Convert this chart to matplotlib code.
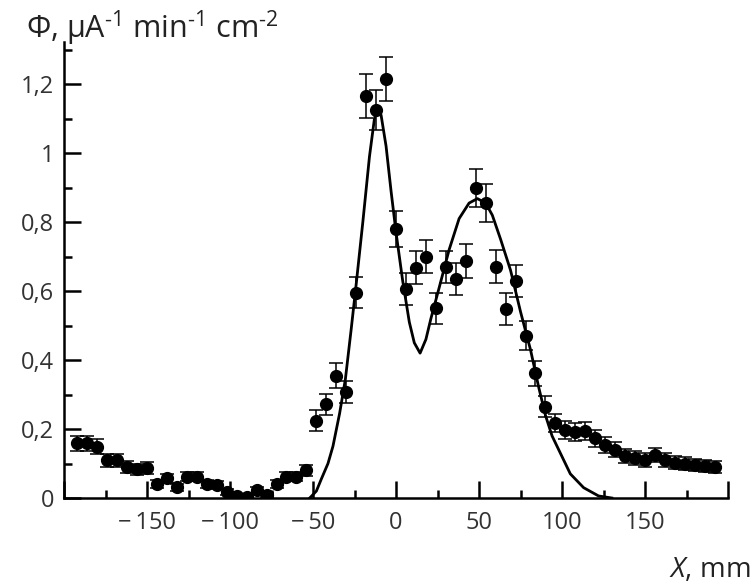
import matplotlib.pyplot as plt
from matplotlib.ticker import MultipleLocator, FixedLocator, FuncFormatter

# measured points: position (mm), flux, error
x_pts = [-192, -186, -180, -174, -168, -162, -156, -150, -144, -138, -132, -126,
         -120, -114, -108, -102, -96, -90, -84, -78, -72, -66, -60, -54,
         -48, -42, -36, -30, -24, -18, -12, -6, 0, 6, 12, 18, 24, 30, 36, 42,
         48, 54, 60, 66, 72, 78, 84, 90, 96, 102, 108, 114, 120, 126, 132, 138,
         144, 150, 156, 162, 168, 174, 180, 186, 192]
y_pts = [0.159, 0.159, 0.149, 0.110, 0.110, 0.089, 0.083, 0.088, 0.041, 0.057, 0.031, 0.062,
         0.062, 0.041, 0.038, 0.018, 0.006, 0.004, 0.023, 0.009, 0.041, 0.062, 0.062, 0.081,
         0.224, 0.272, 0.355, 0.308, 0.595, 1.166, 1.125, 1.214, 0.779, 0.606, 0.668, 0.700,
         0.550, 0.670, 0.634, 0.687, 0.898, 0.855, 0.670, 0.548, 0.629, 0.470, 0.361, 0.265,
         0.218, 0.197, 0.192, 0.195, 0.173, 0.154, 0.140, 0.122, 0.116, 0.110, 0.125, 0.110,
         0.102, 0.100, 0.095, 0.093, 0.090]
y_err = [0.022, 0.022, 0.021, 0.019, 0.019, 0.017, 0.016, 0.017, 0.012, 0.014, 0.011, 0.014,
         0.014, 0.012, 0.012, 0.008, 0.005, 0.004, 0.009, 0.006, 0.012, 0.014, 0.014, 0.016,
         0.030, 0.030, 0.036, 0.032, 0.045, 0.064, 0.058, 0.064, 0.052, 0.045, 0.047, 0.048,
         0.045, 0.047, 0.046, 0.048, 0.055, 0.055, 0.048, 0.045, 0.046, 0.042, 0.037, 0.030,
         0.027, 0.026, 0.026, 0.026, 0.024, 0.023, 0.022, 0.021, 0.020, 0.020, 0.021, 0.020,
         0.019, 0.019, 0.018, 0.018, 0.018]

# fitted curve
x_fit = [-52, -48, -45, -41, -38, -34, -30.5, -27, -24, -20, -16, -13, -11.5, -9, -6, -3,
         0, 4, 8, 11, 14.5, 18, 21, 26, 32, 38, 44, 49, 54, 58, 63, 69, 75, 81, 86,
         90, 94, 99, 105, 113, 122, 130]
y_fit = [0.0, 0.02, 0.055, 0.10, 0.15, 0.245, 0.345, 0.49, 0.62, 0.80, 0.99, 1.10, 1.13,
         1.11, 1.02, 0.89, 0.77, 0.63, 0.51, 0.45, 0.42, 0.46, 0.52, 0.61, 0.72, 0.81,
         0.855, 0.868, 0.855, 0.82, 0.75, 0.66, 0.54, 0.43, 0.32, 0.24, 0.18, 0.13,
         0.07, 0.03, 0.006, 0.0]

plt.rcParams['font.family'] = ['Open Sans', 'DejaVu Sans']
plt.rcParams['mathtext.fontset'] = 'custom'
plt.rcParams['mathtext.rm'] = 'Open Sans'
plt.rcParams['mathtext.it'] = 'Open Sans:italic'

fig = plt.figure(figsize=(7.56, 5.85), dpi=100)
ax = fig.add_axes([0.0847, 0.1487, 0.8783, 0.7795])

ax.plot(x_fit, y_fit, color='black', lw=2.0, zorder=2)
ax.errorbar(x_pts, y_pts, yerr=y_err, fmt='o', color='black', ms=8.5,
            elinewidth=1.1, capsize=5, capthick=1.1, zorder=3)

ax.set_xlim(-200, 200)
ax.set_ylim(0, 1.322)

for s in ['top', 'right']:
    ax.spines[s].set_visible(False)
for s in ['left', 'bottom']:
    ax.spines[s].set_linewidth(1.8)

ax.xaxis.set_major_locator(FixedLocator(range(-200, 201, 50)))
ax.xaxis.set_minor_locator(MultipleLocator(25))
ax.yaxis.set_major_locator(FixedLocator([0, 0.2, 0.4, 0.6, 0.8, 1.0, 1.2]))
ax.yaxis.set_minor_locator(MultipleLocator(0.1))


def xfmt(v, pos):
    if abs(v) >= 200:
        return ''
    return f"{int(v)}".replace('-', '\u2212\u2009')


def yfmt(v, pos):
    s = f"{v:.1f}".replace('.', ',')
    if s.endswith(',0'):
        s = s[:-2]
    return s


ax.xaxis.set_major_formatter(FuncFormatter(xfmt))
ax.yaxis.set_major_formatter(FuncFormatter(yfmt))

ax.tick_params(which='major', direction='in', length=12, width=1.8,
               labelsize=17, labelcolor='#333333')
ax.tick_params(which='minor', direction='in', length=6, width=1.8)
ax.tick_params(axis='x', which='major', pad=9)
ax.tick_params(axis='y', which='major', pad=7)

fig.text(0.035, 0.935, "\u03a6, \u03bcA$^{\u2010 1}$ min$^{\u2010 1}$ cm$^{\u2010 2}$",
         fontsize=22, color='#222222', ha='left', va='baseline')
fig.text(0.992, 0.014, "$\\mathit{X}$, mm", fontsize=20, color='#222222',
         ha='right', va='baseline')

fig.savefig("out.png", dpi=100)
